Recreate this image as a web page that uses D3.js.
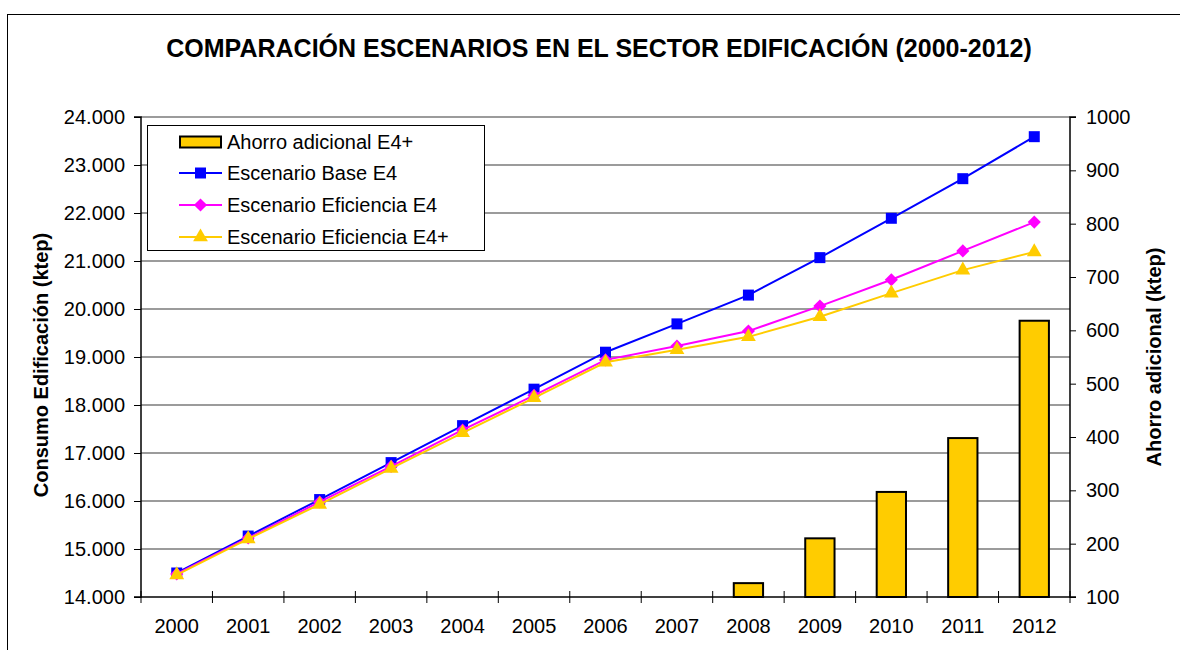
<!DOCTYPE html>
<html>
<head>
<meta charset="utf-8">
<script src="https://cdn.jsdelivr.net/npm/d3@7"></script>
<style>
  html, body { margin: 0; padding: 0; background: #ffffff; }
  svg { display: block; font-family: "Liberation Sans", Arial, sans-serif; }
</style>
</head>
<body>
<svg id="chart" width="1180" height="650"></svg>
<script>
// ---- data ----
const years = ["2000","2001","2002","2003","2004","2005","2006","2007","2008","2009","2010","2011","2012"];
const escenarioBase = [14500, 15270, 16030, 16800, 17570, 18330, 19100, 19690, 20290, 21070, 21890, 22715, 23590];
const escenarioEficiencia = [14480, 15230, 15980, 16720, 17480, 18200, 18940, 19230, 19540, 20060, 20610, 21210, 21810];
const escenarioEficienciaPlus = [14460, 15210, 15930, 16680, 17420, 18150, 18890, 19150, 19420, 19840, 20330, 20810, 21190];
const ahorroAdicional = [null, null, null, null, null, null, null, null, 126, 210, 297, 398, 618];
const leftTicks = [14000, 15000, 16000, 17000, 18000, 19000, 20000, 21000, 22000, 23000, 24000];
const rightTicks = [100, 200, 300, 400, 500, 600, 700, 800, 900, 1000];
const titleText = "COMPARACIÓN ESCENARIOS EN EL SECTOR EDIFICACIÓN (2000-2012)";
const leftAxisTitle = "Consumo Edificación (ktep)";
const rightAxisTitle = "Ahorro adicional (ktep)";
const legendLabels = ["Ahorro adicional E4+", "Escenario Base E4", "Escenario Eficiencia E4", "Escenario Eficiencia E4+"];

// ---- layout ----
const svg = d3.select("#chart");
const plot = { left: 141, right: 1070, top: 117, bottom: 597 };
const fmt = d3.format(",");
const esFmt = v => fmt(v).replace(/,/g, ".");

// outer frame
svg.append("rect").attr("x", 7.5).attr("y", 14.5).attr("width", 1300).attr("height", 800)
  .attr("fill", "none").attr("stroke", "#000").attr("stroke-width", 1);

const x = d3.scaleBand().domain(years).range([plot.left, plot.right]).paddingInner(0).paddingOuter(0);
const yL = d3.scaleLinear().domain([14000, 24000]).range([plot.bottom, plot.top]);
const yR = d3.scaleLinear().domain([100, 1000]).range([plot.bottom, plot.top]);

// gridlines
svg.append("g").selectAll("line").data(leftTicks.filter(t => t !== 14000)).join("line")
  .attr("x1", plot.left).attr("x2", plot.right)
  .attr("y1", d => yL(d)).attr("y2", d => yL(d))
  .attr("stroke", "#7a7a7a").attr("stroke-width", 1.7);

// bars
const barW = x.bandwidth() * 0.41;
svg.append("g").selectAll("rect")
  .data(years.map((y, i) => ({ y, v: ahorroAdicional[i] })).filter(d => d.v !== null && d.v > 100))
  .join("rect")
  .attr("x", d => x(d.y) + x.bandwidth() / 2 - barW / 2)
  .attr("width", barW)
  .attr("y", d => yR(d.v))
  .attr("height", d => yR(100) - yR(d.v))
  .attr("fill", "#FFCC00").attr("stroke", "#000").attr("stroke-width", 2);

// axes
const leftAxis = d3.axisLeft(yL).tickValues(leftTicks).tickSize(7).tickPadding(9).tickFormat(esFmt);
const gL = svg.append("g").attr("transform", `translate(${plot.left},0)`).call(leftAxis);
const rightAxis = d3.axisRight(yR).tickValues(rightTicks).tickSize(6).tickPadding(10).tickFormat(d3.format("d"));
const gR = svg.append("g").attr("transform", `translate(${plot.right},0)`).call(rightAxis);
const bottomAxis = d3.axisBottom(x).tickSize(0).tickPadding(22);
const gB = svg.append("g").attr("transform", `translate(0,${plot.bottom})`).call(bottomAxis);
// category boundary cross ticks
const bounds = years.map(y => x(y)).concat([plot.right]);
svg.append("g").selectAll("line").data(bounds).join("line")
  .attr("x1", d => d).attr("x2", d => d)
  .attr("y1", plot.bottom - 6).attr("y2", plot.bottom + 6)
  .attr("stroke", "#000").attr("stroke-width", 1);

[gL, gR, gB].forEach(g => {
  g.select(".domain").attr("stroke", "#000").attr("stroke-width", 1.5);
  g.selectAll(".tick line").attr("stroke", "#000").attr("stroke-width", 1);
  g.selectAll(".tick text").attr("font-size", 20).attr("fill", "#000")
    .attr("font-family", "'Liberation Sans', Arial, sans-serif");
});
gL.select(".domain").attr("d", `M-7,${plot.top}H0V${plot.bottom}H-7`);
gR.select(".domain").attr("d", `M6,${plot.top}H0V${plot.bottom}H6`);
gB.select(".domain").attr("d", `M${plot.left},0H${plot.right}`);

// lines
const series = [
  { vals: escenarioBase, color: "#0000FF", marker: "square" },
  { vals: escenarioEficiencia, color: "#FF00FF", marker: "diamond" },
  { vals: escenarioEficienciaPlus, color: "#FFCC00", marker: "triangle" }
];
const symMap = { square: d3.symbolSquare, diamond: d3.symbolDiamond2, triangle: d3.symbolTriangle };
const symSize = { square: 121, diamond: 110, triangle: 95 };
const cx = y => x(y) + x.bandwidth() / 2;
const line = d3.line().x(d => cx(d.y)).y(d => yL(d.v));

series.forEach(s => {
  const pts = years.map((y, i) => ({ y, v: s.vals[i] }));
  svg.append("path").datum(pts).attr("d", line)
    .attr("fill", "none").attr("stroke", s.color).attr("stroke-width", 2);
  svg.append("g").selectAll("path").data(pts).join("path")
    .attr("transform", d => `translate(${cx(d.y)},${yL(d.v)})`)
    .attr("d", d3.symbol().type(symMap[s.marker]).size(symSize[s.marker]))
    .attr("fill", s.color);
});

// title
svg.append("text").attr("x", 599).attr("y", 57).attr("text-anchor", "middle")
  .attr("font-size", 25).attr("font-weight", "bold").attr("fill", "#000").text(titleText);

// axis titles
svg.append("text").attr("transform", `translate(48,${(plot.top + plot.bottom) / 2 + 8}) rotate(-90)`)
  .attr("text-anchor", "middle").attr("font-size", 20).attr("font-weight", "bold").text(leftAxisTitle);
svg.append("text").attr("transform", `translate(1161,${(plot.top + plot.bottom) / 2}) rotate(-90)`)
  .attr("text-anchor", "middle").attr("font-size", 20).attr("font-weight", "bold").text(rightAxisTitle);

// legend
const lg = svg.append("g");
lg.append("rect").attr("x", 147.5).attr("y", 125.5).attr("width", 337).attr("height", 125)
  .attr("fill", "#fff").attr("stroke", "#000").attr("stroke-width", 1);
const rowY = [142, 173, 205, 237];
// bar swatch
lg.append("rect").attr("x", 180).attr("y", rowY[0] - 5.5).attr("width", 41).attr("height", 11)
  .attr("fill", "#FFCC00").attr("stroke", "#000").attr("stroke-width", 2);
series.forEach((s, i) => {
  const yy = rowY[i + 1];
  lg.append("line").attr("x1", 179).attr("x2", 222).attr("y1", yy).attr("y2", yy)
    .attr("stroke", s.color).attr("stroke-width", 2);
  lg.append("path").attr("transform", `translate(200.5,${yy})`)
    .attr("d", d3.symbol().type(symMap[s.marker]).size(symSize[s.marker])).attr("fill", s.color);
});
lg.selectAll("text.lab").data(legendLabels).join("text").attr("class", "lab")
  .attr("x", 227).attr("y", (d, i) => rowY[i] + 7).attr("font-size", 20).attr("fill", "#000").text(d => d);
</script>
</body>
</html>
